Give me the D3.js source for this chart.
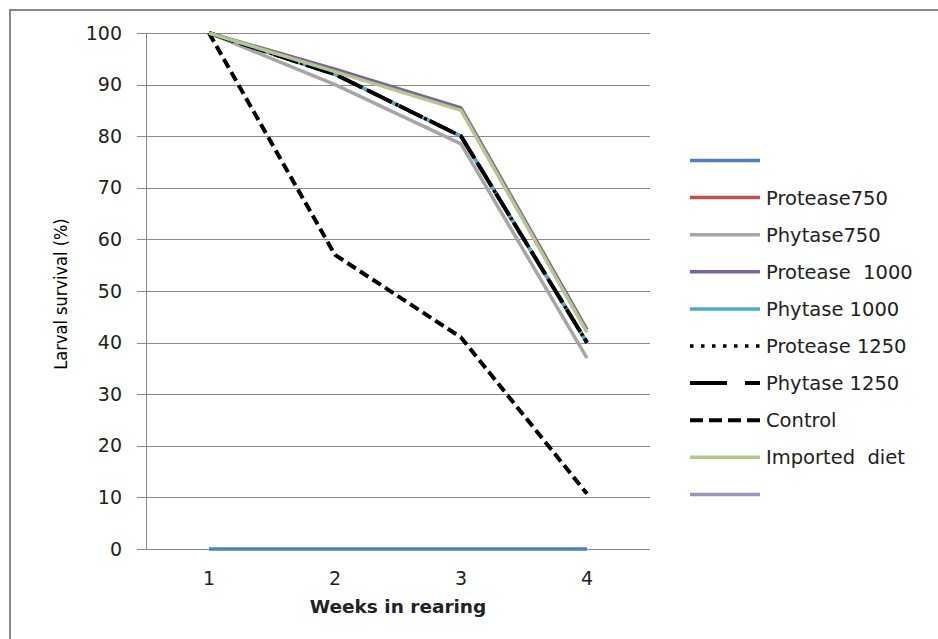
<!DOCTYPE html>
<html>
<head>
<meta charset="utf-8">
<script src="https://cdn.jsdelivr.net/npm/d3@7"></script>
<style>
  body { margin: 0; background: #fff; }
  svg { display: block; }
</style>
</head>
<body>
<script>
const width = 938;
const height = 639;
const plot = { left: 146, right: 650, top: 33, bottom: 549 };

// data
const weeks = ['1', '2', '3', '4'];
const yTicks = [0, 10, 20, 30, 40, 50, 60, 70, 80, 90, 100];
const seriesNames = ['', 'Protease750', 'Phytase750', 'Protease  1000', 'Phytase 1000',
  'Protease 1250', 'Phytase 1250', 'Control', 'Imported  diet', ''];
const blankSeries = [0, 0, 0, 0];
const protease750 = [100, 92, 80, 40];
const phytase750 = [100, 90, 78.5, 37];
const protease1000 = [100, 93, 85.5, 42.5];
const phytase1000 = [100, 92, 80, 40];
const protease1250 = [100, 92, 80, 40];
const phytase1250 = [100, 92, 80, 40];
const control = [100, 57, 41, 10.7];
const importedDiet = [100, 92.5, 85, 42];
const lastSeries = [null, null, null, null];

const seriesValues = [blankSeries, protease750, phytase750, protease1000, phytase1000,
  protease1250, phytase1250, control, importedDiet, lastSeries];

const styles = [
  { color: '#4F81BD', width: 3.5, dash: null, legendDash: null },
  { color: '#C0504D', width: 3.5, dash: null, legendDash: null },
  { color: '#A6A6A6', width: 3.5, dash: null, legendDash: null },
  { color: '#7E62A0', width: 3.5, dash: null, legendDash: null },
  { color: '#4BACC6', width: 3.5, dash: null, legendDash: null },
  { color: '#000', width: 3.5, dash: '3,5', legendDash: '3.5,7.5' },
  { color: '#000', width: 4, dash: '26,8', legendDash: '37,18' },
  { color: '#000', width: 4, dash: '10,5', legendDash: '13,6' },
  { color: '#B2C98B', width: 3.5, dash: null, legendDash: null },
  { color: '#9D92C1', width: 3.5, dash: null, legendDash: null }
];

function main() {
  const svg = d3.select('body').append('svg').attr('width', width).attr('height', height);

  // outer frame
  svg.append('rect')
    .attr('x', 10).attr('y', 10)
    .attr('width', width + 20).attr('height', height + 20)
    .attr('fill', 'none').attr('stroke', '#888').attr('stroke-width', 2);

  const x = d3.scaleBand().domain(weeks).range([plot.left, plot.right]);
  const y = d3.scaleLinear().domain([0, 100]).range([plot.bottom, plot.top]);

  drawAxes(svg, x, y);
  drawLines(svg, x, y);
  drawLegend(svg);
}

function drawAxes(svg, x, y) {
  svg.append('g')
    .selectAll('line')
    .data(yTicks)
    .enter()
    .append('line')
    .attr('x1', plot.left - 9)
    .attr('x2', plot.right)
    .attr('y1', d => Math.round(y(d)) + 0.5)
    .attr('y2', d => Math.round(y(d)) + 0.5)
    .attr('stroke', '#8a8a8a')
    .attr('stroke-width', 1);

  svg.append('line')
    .attr('x1', plot.left + 0.5).attr('x2', plot.left + 0.5)
    .attr('y1', plot.top).attr('y2', plot.bottom)
    .attr('stroke', '#8a8a8a');

  svg.append('g')
    .selectAll('text')
    .data(yTicks)
    .enter()
    .append('text')
    .attr('x', 122)
    .attr('y', d => y(d) + 6.5)
    .attr('text-anchor', 'end')
    .attr('font-family', 'DejaVu Sans')
    .attr('font-size', '19px')
    .attr('fill', '#222')
    .text(d => d);

  svg.append('g')
    .selectAll('text')
    .data(weeks)
    .enter()
    .append('text')
    .attr('x', d => x(d) + x.bandwidth() / 2)
    .attr('y', 585)
    .attr('text-anchor', 'middle')
    .attr('font-family', 'DejaVu Sans')
    .attr('font-size', '19px')
    .attr('fill', '#222')
    .text(d => d);

  svg.append('text')
    .attr('x', 398)
    .attr('y', 613)
    .attr('text-anchor', 'middle')
    .attr('font-family', 'DejaVu Sans')
    .attr('font-weight', 'bold')
    .attr('font-size', '18.5px')
    .attr('fill', '#222')
    .text('Weeks in rearing');

  svg.append('text')
    .attr('transform', 'translate(67,294) rotate(-90)')
    .attr('text-anchor', 'middle')
    .attr('font-family', 'Liberation Sans Narrow, DejaVu Sans Condensed, sans-serif')
    .attr('font-size', '18px')
    .attr('fill', '#000')
    .text('Larval survival (%)');
}

function drawLines(svg, x, y) {
  const line = d3.line()
    .defined(d => d.value !== null)
    .x(d => x(d.week) + x.bandwidth() / 2)
    .y(d => y(d.value));

  seriesValues.forEach((values, i) => {
    const points = values.map((v, j) => ({ week: weeks[j], value: v }));
    const s = styles[i];
    svg.append('path')
      .datum(points)
      .attr('d', line)
      .attr('fill', 'none')
      .attr('stroke', s.color)
      .attr('stroke-width', s.width)
      .attr('stroke-linejoin', 'round')
      .attr('stroke-dasharray', s.dash);
  });
}

function drawLegend(svg) {
  const top = 160.5;
  const step = 37.1;
  const legend = svg.append('g');

  legend.selectAll('line')
    .data(styles)
    .enter()
    .append('line')
    .attr('x1', 690)
    .attr('x2', 760)
    .attr('y1', (_, i) => top + i * step)
    .attr('y2', (_, i) => top + i * step)
    .attr('stroke', d => d.color)
    .attr('stroke-width', d => d.width)
    .attr('stroke-dasharray', d => d.legendDash);

  legend.selectAll('text')
    .data(seriesNames)
    .enter()
    .append('text')
    .attr('x', 766)
    .attr('y', (_, i) => top + i * step + 7)
    .attr('font-family', 'DejaVu Sans')
    .attr('font-size', '19.5px')
    .attr('fill', '#222')
    .style('white-space', 'pre')
    .text(d => d);
}

main();
</script>
</body>
</html>
